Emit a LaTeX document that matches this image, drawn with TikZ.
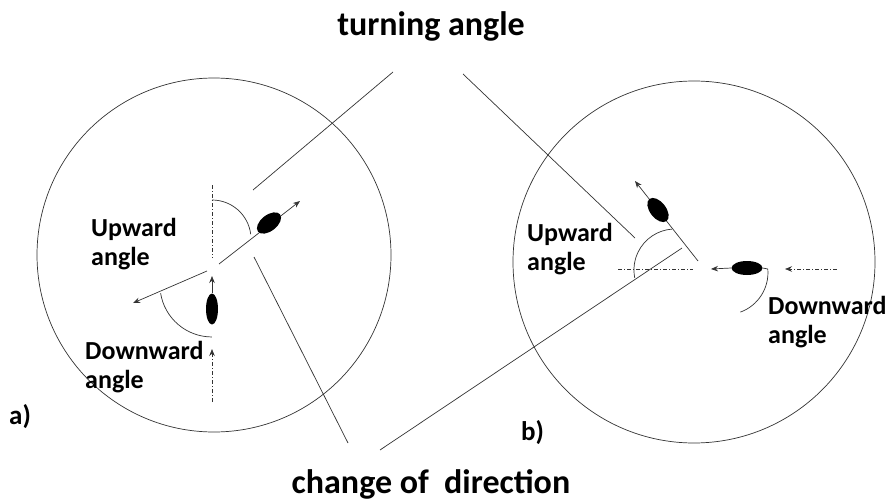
\documentclass[tikz,border=0pt]{standalone}
\usepackage{fontspec}
\setmainfont{Carlito}
\usetikzlibrary{arrows.meta,shapes.geometric}
\begin{document}
\begin{tikzpicture}[x=1pt,y=-1pt,
  thin line/.style={draw=black!80,line width=0.7pt},
  dashdot/.style={draw=black!80,line width=0.7pt,dash pattern=on 4pt off 2pt on 1pt off 2pt},
  tip/.style={-{Stealth[length=7pt,width=5.5pt]}},
  fish/.style={ellipse,fill=black,draw=none,inner sep=0pt},
  title/.style={font=\bfseries\fontsize{34}{40}\selectfont,inner sep=0pt},
  lbl/.style={font=\bfseries\fontsize{26}{29.5}\selectfont,align=left,inner sep=0pt,anchor=north west},
  tag/.style={font=\bfseries\fontsize{27}{30}\selectfont,inner sep=0pt,anchor=base west}]
\useasboundingbox (0,0) rectangle (889,503);
% circles
\node[thin line,circle,minimum size=354pt,inner sep=0pt] (ca) at (214,255) {};
\node[thin line,circle,minimum size=362pt,inner sep=0pt] (cb) at (694,262) {};
% titles
\node[title,anchor=base] (tt) at (431,36) {turning angle};
\node[title,anchor=base] (td) at (431,493) {change of\ \ direction};
% ---------- figure a ----------
\coordinate (a1) at (212,185);
\coordinate (a2) at (212,258);
\draw[dashdot] (a1) -- (a2);
\draw[thin line] (212,200) arc[start angle=-90,end angle=-7,radius=39];
\coordinate (ap0) at (219,264);
\coordinate (ap1) at (300,201);
\draw[thin line,tip] (ap0) -- (ap1);
\node[fish,minimum width=28pt,minimum height=16pt,rotate=38] (fa1) at (269,223) {};
\coordinate (aq0) at (207,271);
\coordinate (aq1) at (133,303);
\draw[thin line,tip] (aq0) -- (aq1);
\draw[thin line] (160.6,293.1) arc[start angle=171,end angle=90,radius=52];
\node[fish,minimum width=12pt,minimum height=31pt] (fa2) at (212,309) {};
\coordinate (ar1) at (212,276);
\draw[thin line,tip] (fa2.north) -- (ar1);
\coordinate (as0) at (212,402);
\coordinate (as1) at (212,349);
\draw[dashdot,tip] (as0) -- (as1);
\node[lbl] (ua) at (91,218) {Upward\\angle};
\node[lbl] (da) at (85,341) {Downward\\angle};
\node[tag] (ta) at (9,424) {a)};
% ---------- figure b ----------
\coordinate (b1) at (618,269);
\coordinate (b2) at (693,269);
\draw[dashdot] (b1) -- (b2);
\node[fish,minimum width=31pt,minimum height=14pt] (fb1) at (747,268) {};
\coordinate (bt1) at (711,269);
\draw[thin line,tip] (fb1.west) -- (bt1);
\coordinate (be) at (767.8,269);
\draw[thin line] (fb1.east) -- (be);
\draw[thin line] (be) arc[start angle=-5,end angle=70,radius=42];
\coordinate (bs0) at (837,269);
\coordinate (bs1) at (785,269);
\draw[dashdot,tip] (bs0) -- (bs1);
\coordinate (bp0) at (698,261);
\coordinate (bp1) at (635,181);
\draw[thin line,tip] (bp0) -- (bp1);
\node[fish,minimum width=28pt,minimum height=16pt,rotate=-52] (fb2) at (658,210) {};
\draw[thin line] (672.1,229.1) arc[start angle=-94,end angle=-191,radius=41];
\node[lbl] (ub) at (527,223) {Upward\\angle};
\node[lbl] (db) at (768,296) {Downward\\angle};
\node[tag] (tb) at (521,440) {b)};
% ---------- connectors ----------
\coordinate (k1a) at (253,190);
\coordinate (k1b) at (393,72);
\draw[thin line] (k1a) -- (k1b);
\coordinate (k2a) at (254,257);
\coordinate (k2b) at (348,443);
\draw[thin line] (k2a) -- (k2b);
\coordinate (k3a) at (682,248);
\coordinate (k3b) at (380,450);
\draw[thin line] (k3a) -- (k3b);
\coordinate (k4a) at (635,238);
\coordinate (k4b) at (463,74);
\draw[thin line] (k4a) -- (k4b);
\end{tikzpicture}
\end{document}
